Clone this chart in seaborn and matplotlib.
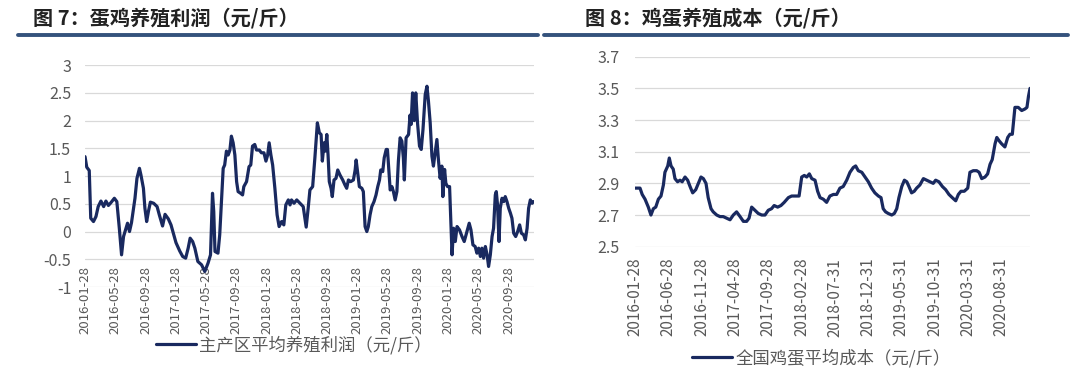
import pandas as pd
import seaborn as sns
import matplotlib.pyplot as plt
from matplotlib.lines import Line2D

# 图7 主产区平均养殖利润（元/斤）
profit_dates = [
    "2016-01-28", "2016-02-04", "2016-02-14", "2016-02-20", "2016-03-02", "2016-03-12",
    "2016-03-21", "2016-04-01", "2016-04-12", "2016-04-21", "2016-05-01", "2016-05-11",
    "2016-05-25", "2016-06-04", "2016-06-14", "2016-06-23", "2016-07-01", "2016-07-11",
    "2016-07-17", "2016-07-25", "2016-08-02", "2016-08-16", "2016-08-24", "2016-09-03",
    "2016-09-09", "2016-09-19", "2016-09-25", "2016-10-02", "2016-10-09", "2016-10-17",
    "2016-10-30", "2016-11-13", "2016-11-22", "2016-12-05", "2016-12-15", "2016-12-28",
    "2017-01-08", "2017-01-19", "2017-01-28", "2017-02-12", "2017-02-24", "2017-03-08",
    "2017-03-18", "2017-03-26", "2017-04-05", "2017-04-14", "2017-04-26", "2017-05-11",
    "2017-05-24", "2017-06-06", "2017-06-16", "2017-06-24", "2017-06-29", "2017-07-04",
    "2017-07-16", "2017-07-23", "2017-07-30", "2017-08-06", "2017-08-12", "2017-08-19",
    "2017-08-26", "2017-09-02", "2017-09-08", "2017-09-15", "2017-09-22", "2017-09-29",
    "2017-10-05", "2017-10-15", "2017-10-23", "2017-10-28", "2017-11-08", "2017-11-18",
    "2017-11-25", "2017-12-02", "2017-12-11", "2017-12-18", "2017-12-29", "2018-01-07",
    "2018-01-17", "2018-01-25", "2018-02-01", "2018-02-07", "2018-02-14", "2018-02-21",
    "2018-03-02", "2018-03-11", "2018-03-19", "2018-03-29", "2018-04-07", "2018-04-15",
    "2018-04-25", "2018-05-02", "2018-05-08", "2018-05-18", "2018-05-29", "2018-06-11",
    "2018-06-24", "2018-07-06", "2018-07-14", "2018-07-21", "2018-08-01", "2018-08-10",
    "2018-08-20", "2018-08-28", "2018-09-04", "2018-09-09", "2018-09-16", "2018-09-21",
    "2018-09-27", "2018-10-02", "2018-10-07", "2018-10-14", "2018-10-19", "2018-10-26",
    "2018-11-03", "2018-11-10", "2018-11-19", "2018-11-30", "2018-12-09", "2018-12-16",
    "2018-12-23", "2019-01-01", "2019-01-12", "2019-01-19", "2019-01-23", "2019-01-28",
    "2019-02-05", "2019-02-15", "2019-02-21", "2019-02-28", "2019-03-07", "2019-03-13",
    "2019-03-20", "2019-03-27", "2019-04-05", "2019-04-13", "2019-04-20", "2019-04-27",
    "2019-05-02", "2019-05-10", "2019-05-16", "2019-05-24", "2019-05-29", "2019-06-04",
    "2019-06-09", "2019-06-16", "2019-06-22", "2019-06-29", "2019-07-06", "2019-07-12",
    "2019-07-19", "2019-07-26", "2019-08-01", "2019-08-05", "2019-08-12", "2019-08-22",
    "2019-08-28", "2019-09-01", "2019-09-07", "2019-09-14", "2019-09-20", "2019-09-27",
    "2019-10-05", "2019-10-12", "2019-10-19", "2019-10-28", "2019-11-04", "2019-11-10",
    "2019-11-17", "2019-11-24", "2019-11-30", "2019-12-07", "2019-12-14", "2019-12-20",
    "2019-12-27", "2020-01-03", "2020-01-07", "2020-01-14", "2020-01-19", "2020-01-26",
    "2020-02-03", "2020-02-08", "2020-02-13", "2020-02-19", "2020-02-26", "2020-03-04",
    "2020-03-14", "2020-03-24", "2020-04-02", "2020-04-13", "2020-04-22", "2020-04-29",
    "2020-05-07", "2020-05-16", "2020-05-23", "2020-05-30", "2020-06-06", "2020-06-12",
    "2020-06-19", "2020-06-26", "2020-07-03", "2020-07-09", "2020-07-16", "2020-07-23",
    "2020-07-29", "2020-08-05", "2020-08-09", "2020-08-14", "2020-08-20", "2020-08-25",
    "2020-09-01", "2020-09-08", "2020-09-14", "2020-09-21", "2020-09-28", "2020-10-05",
    "2020-10-11", "2020-10-18", "2020-10-26", "2020-11-03", "2020-11-11", "2020-11-18",
    "2020-11-27", "2020-12-04", "2020-12-11", "2020-12-17", "2020-12-24", "2020-12-31",
    "2021-01-06",
]
profit_values = [
    1.35, 1.16, 1.10, 0.24, 0.18, 0.27,
    0.45, 0.55, 0.45, 0.55, 0.47, 0.52,
    0.60, 0.54, 0.06, -0.42, -0.09, 0.06,
    0.15, 0.00, 0.16, 0.60, 0.96, 1.14,
    1.02, 0.78, 0.42, 0.18, 0.36, 0.53,
    0.51, 0.45, 0.30, 0.10, 0.31, 0.23,
    0.12, -0.06, -0.20, -0.35, -0.45, -0.48,
    -0.30, -0.12, -0.18, -0.30, -0.54, -0.60,
    -0.72, -0.57, -0.42, 0.69, 0.36, -0.36,
    -0.39, -0.06, 0.54, 1.14, 1.20, 1.45,
    1.38, 1.47, 1.72, 1.60, 1.38, 0.90,
    0.72, 0.69, 0.66, 0.81, 0.90, 1.17,
    1.20, 1.54, 1.57, 1.47, 1.47, 1.42,
    1.42, 1.27, 1.38, 1.60, 1.38, 1.20,
    0.78, 0.30, 0.09, 0.18, 0.12, 0.48,
    0.57, 0.48, 0.57, 0.51, 0.57, 0.51,
    0.45, 0.08, 0.42, 0.75, 0.81, 1.33,
    1.96, 1.78, 1.75, 1.27, 1.60, 1.45,
    1.75, 1.38, 0.90, 0.78, 0.63, 0.93,
    0.96, 1.11, 1.02, 0.93, 0.84, 0.78,
    0.93, 0.90, 0.93, 1.11, 1.29, 1.11,
    0.81, 0.78, 0.72, 0.09, 0.00, 0.09,
    0.30, 0.45, 0.54, 0.66, 0.81, 0.93,
    1.11, 1.08, 1.33, 1.48, 1.48, 1.08,
    0.75, 0.81, 0.72, 0.57, 0.72, 1.27,
    1.69, 1.63, 1.33, 0.93, 1.69, 1.75,
    2.10, 1.93, 2.50, 2.00, 2.50, 1.96,
    1.54, 1.48, 1.84, 2.47, 2.62, 2.35,
    1.96, 1.36, 1.18, 1.42, 1.66, 1.30,
    0.96, 1.18, 0.63, 1.12, 0.87, 0.81,
    0.81, 0.18, -0.42, 0.06, -0.18, 0.09,
    0.03, -0.09, -0.18, 0.00, 0.15, 0.03,
    -0.24, -0.27, -0.39, -0.30, -0.45, -0.30,
    -0.48, -0.27, -0.42, -0.63, -0.42, -0.09,
    0.06, 0.66, 0.72, 0.48, -0.18, 0.42,
    0.60, 0.54, 0.63, 0.54, 0.42, 0.33,
    0.24, -0.03, -0.09, 0.00, 0.12, -0.03,
    -0.06, -0.15, 0.06, 0.42, 0.57, 0.51,
    0.54,
]

# 图8 全国鸡蛋平均成本（元/斤）
cost_dates = [
    "2016-01-28", "2016-02-20", "2016-03-01", "2016-03-14", "2016-03-29", "2016-04-10",
    "2016-04-21", "2016-05-02", "2016-05-14", "2016-05-26", "2016-06-06", "2016-06-13",
    "2016-06-26", "2016-07-03", "2016-07-11", "2016-07-21", "2016-07-29", "2016-08-10",
    "2016-08-21", "2016-08-31", "2016-09-13", "2016-09-25", "2016-10-06", "2016-10-18",
    "2016-11-01", "2016-11-13", "2016-11-25", "2016-12-06", "2016-12-18", "2016-12-28",
    "2017-01-10", "2017-01-20", "2017-02-05", "2017-02-20", "2017-03-07", "2017-03-23",
    "2017-04-07", "2017-04-22", "2017-05-07", "2017-05-23", "2017-06-07", "2017-06-22",
    "2017-07-03", "2017-07-15", "2017-07-30", "2017-08-14", "2017-08-30", "2017-09-14",
    "2017-09-29", "2017-10-14", "2017-10-26", "2017-11-11", "2017-11-26", "2017-12-11",
    "2017-12-30", "2018-01-14", "2018-01-29", "2018-02-17", "2018-03-01", "2018-03-13",
    "2018-03-24", "2018-04-05", "2018-04-16", "2018-05-01", "2018-05-13", "2018-05-24",
    "2018-06-08", "2018-06-23", "2018-07-08", "2018-07-24", "2018-08-08", "2018-08-23",
    "2018-09-07", "2018-09-23", "2018-10-08", "2018-10-23", "2018-11-03", "2018-11-15",
    "2018-12-01", "2018-12-16", "2018-12-31", "2019-01-15", "2019-01-30", "2019-02-15",
    "2019-02-27", "2019-03-09", "2019-03-20", "2019-04-01", "2019-04-17", "2019-04-29",
    "2019-05-10", "2019-05-20", "2019-06-02", "2019-06-14", "2019-06-25", "2019-07-05",
    "2019-07-17", "2019-07-29", "2019-08-09", "2019-08-24", "2019-09-09", "2019-09-24",
    "2019-10-09", "2019-10-24", "2019-11-04", "2019-11-19", "2019-12-05", "2019-12-20",
    "2020-01-04", "2020-01-19", "2020-02-04", "2020-02-16", "2020-02-28", "2020-03-14",
    "2020-03-30", "2020-04-09", "2020-04-24", "2020-05-10", "2020-05-21", "2020-06-02",
    "2020-06-17", "2020-06-29", "2020-07-10", "2020-07-20", "2020-08-02", "2020-08-10",
    "2020-08-20", "2020-09-01", "2020-09-16", "2020-09-29", "2020-10-09", "2020-10-20",
    "2020-11-01", "2020-11-16", "2020-12-02", "2020-12-17", "2020-12-26", "2021-01-02",
    "2021-01-09",
]
cost_values = [
    2.87, 2.87, 2.83, 2.80, 2.75, 2.70,
    2.74, 2.75, 2.80, 2.82, 2.89, 2.97,
    3.01, 3.06, 3.01, 2.99, 2.93, 2.91,
    2.92, 2.91, 2.94, 2.92, 2.88, 2.84,
    2.86, 2.90, 2.94, 2.93, 2.90, 2.81,
    2.74, 2.72, 2.70, 2.69, 2.69, 2.68,
    2.67, 2.70, 2.72, 2.69, 2.66, 2.66,
    2.68, 2.75, 2.73, 2.71, 2.70, 2.70,
    2.73, 2.74, 2.76, 2.75, 2.76, 2.78,
    2.81, 2.82, 2.82, 2.82, 2.94, 2.95,
    2.94, 2.96, 2.93, 2.92, 2.85, 2.81,
    2.80, 2.78, 2.82, 2.83, 2.83, 2.87,
    2.88, 2.92, 2.97, 3.00, 3.01, 2.98,
    2.97, 2.94, 2.91, 2.87, 2.84, 2.82,
    2.81, 2.74, 2.72, 2.71, 2.70, 2.71,
    2.74, 2.81, 2.88, 2.92, 2.91, 2.88,
    2.84, 2.85, 2.87, 2.89, 2.93, 2.92,
    2.91, 2.90, 2.92, 2.91, 2.88, 2.86,
    2.83, 2.81, 2.79, 2.83, 2.85, 2.85,
    2.87, 2.97, 2.98, 2.98, 2.97, 2.93,
    2.94, 2.96, 3.02, 3.05, 3.15, 3.19,
    3.17, 3.15, 3.13, 3.19, 3.21, 3.21,
    3.38, 3.38, 3.36, 3.37, 3.38, 3.45,
    3.50,
]

profit_ticks = ["2016-01-28", "2016-05-28", "2016-09-28", "2017-01-28", "2017-05-28",
                "2017-09-28", "2018-01-28", "2018-05-28", "2018-09-28", "2019-01-28",
                "2019-05-28", "2019-09-28", "2020-01-28", "2020-05-28", "2020-09-28"]
cost_ticks = ["2016-01-28", "2016-06-28", "2016-11-28", "2017-04-28", "2017-09-28",
              "2018-02-28", "2018-07-31", "2018-12-31", "2019-05-31", "2019-10-31",
              "2020-03-31", "2020-08-31"]
profit_yticks = [-1, -0.5, 0, 0.5, 1, 1.5, 2, 2.5, 3]
cost_yticks = [2.5, 2.7, 2.9, 3.1, 3.3, 3.5, 3.7]

profit = pd.DataFrame({"date": pd.to_datetime(profit_dates), "value": profit_values})
cost = pd.DataFrame({"date": pd.to_datetime(cost_dates), "value": cost_values})

sns.set_theme(style="whitegrid")
plt.rcParams['font.family'] = ['Noto Sans CJK SC', 'DejaVu Sans']

LINE = "#19295f"
GRID = "#d9d9d9"
TXT = "#595959"
RULE = "#34527c"

fig = plt.figure(figsize=(10.79, 3.76), dpi=100)
fig.patch.set_facecolor("white")

ax1 = fig.add_axes([0.0788, 0.2367, 0.4157, 0.590])
ax2 = fig.add_axes([0.5885, 0.3439, 0.3661, 0.5053])

sns.lineplot(data=profit, x="date", y="value", ax=ax1, color=LINE, linewidth=2.3)
sns.lineplot(data=cost, x="date", y="value", ax=ax2, color=LINE, linewidth=2.3)

for ax, df, yt, xt, fmt in [(ax1, profit, profit_yticks, profit_ticks, "{:g}"),
                            (ax2, cost, cost_yticks, cost_ticks, "{:.1f}")]:
    ax.set_facecolor("white")
    ax.set_xlim(df["date"].iloc[0], df["date"].iloc[-1])
    ax.set_ylim(yt[0], yt[-1])
    ax.set_yticks(yt)
    ax.set_yticklabels([fmt.format(v) for v in yt])
    ax.set_xticks(pd.to_datetime(xt))
    ax.set_xticklabels(xt, rotation=90)
    ax.grid(axis="y", color=GRID, linewidth=0.9)
    ax.grid(axis="x", visible=False)
    for s in ax.spines.values():
        s.set_visible(False)
    ax.set_xlabel("")
    ax.set_ylabel("")

ax1.tick_params(axis="y", labelsize=11.5, labelcolor=TXT, pad=10, length=0)
ax1.tick_params(axis="x", labelsize=9.5, labelcolor=TXT, pad=-15, length=0)
ax2.tick_params(axis="y", labelsize=11.5, labelcolor=TXT, pad=11, length=0)
ax2.tick_params(axis="x", labelsize=11, labelcolor=TXT, pad=8, length=0)

# titles and rules
fig.text(33 / 1079, 1 - 18 / 376, "图 7：蛋鸡养殖利润（元/斤）", fontsize=14.5,
         fontweight="bold", color="#222222", va="center", ha="left")
fig.text(585 / 1079, 1 - 18 / 376, "图 8：鸡蛋养殖成本（元/斤）", fontsize=14.5,
         fontweight="bold", color="#222222", va="center", ha="left")
fig.add_artist(Line2D([18 / 1079, 538 / 1079], [1 - 34.5 / 376] * 2, color=RULE, lw=2.8))
fig.add_artist(Line2D([544 / 1079, 1068 / 1079], [1 - 34.5 / 376] * 2, color=RULE, lw=2.8))

# legends
h = [Line2D([], [], color=LINE, lw=2.3)]
ax1.legend(h, ["主产区平均养殖利润（元/斤）"], loc="center", bbox_to_anchor=(294 / 1079, 1 - 345 / 376),
           bbox_transform=fig.transFigure, frameon=False, fontsize=12.5, labelcolor=TXT,
           handlelength=2.3, handletextpad=0.2)
ax2.legend(h, ["全国鸡蛋平均成本（元/斤）"], loc="center", bbox_to_anchor=(821 / 1079, 1 - 358 / 376),
           bbox_transform=fig.transFigure, frameon=False, fontsize=12.5, labelcolor=TXT,
           handlelength=2.3, handletextpad=0.2)

fig.savefig("out.png", dpi=100, facecolor="white")
